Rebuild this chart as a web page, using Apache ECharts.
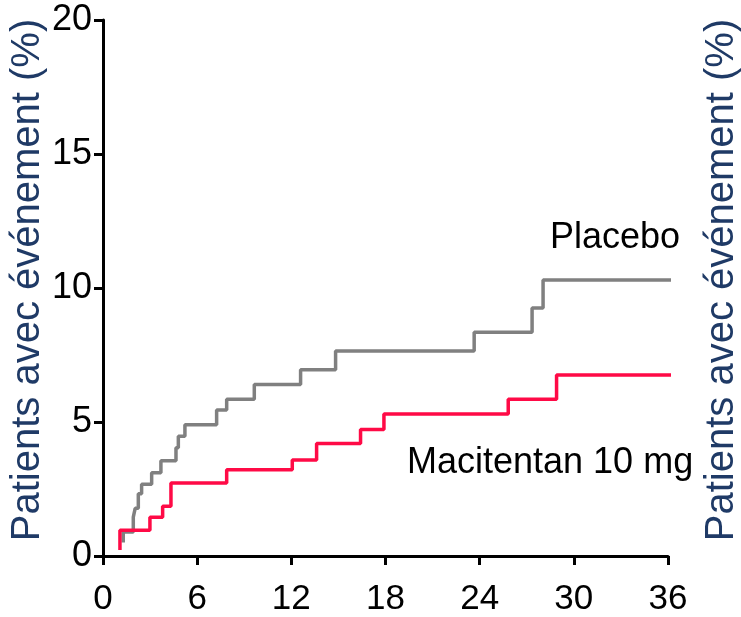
<!DOCTYPE html>
<html>
<head>
<meta charset="utf-8">
<script src="https://cdn.jsdelivr.net/npm/echarts@6/dist/echarts.min.js"></script>
<style>
	html, body { margin: 0; padding: 0; background: #fff; }
	#chart { width: 741px; height: 617px; }
</style>
</head>
<body>
<div id="chart"></div>
<script>
'use strict';
// step points: month where the value changes, new %
var placeboMonths = [1.29, 1.29, 1.93, 2.05, 2.25, 2.46, 3.10, 3.69, 4.65, 4.80, 5.22, 7.24, 7.88, 9.64, 12.59, 14.82, 23.65, 27.34, 28.04, 36.4];
var placeboPct = [0.50, 0.90, 1.45, 1.78, 2.32, 2.68, 3.11, 3.55, 4.04, 4.47, 4.90, 5.45, 5.85, 6.40, 6.95, 7.65, 8.35, 9.25, 10.30, 10.30];
var macitentanMonths = [1.08, 1.08, 2.99, 3.80, 4.33, 7.88, 12.06, 13.61, 16.41, 17.90, 25.82, 28.90, 36.4];
var macitentanPct = [0.22, 0.96, 1.45, 1.86, 2.72, 3.22, 3.58, 4.20, 4.72, 5.30, 5.85, 6.75, 6.75];

var seriesNames = ['Placebo', 'Macitentan 10 mg'];
var axisTitle = 'Patients avec événement (%)';

function pairs(xs, ys) {
	var out = [];
	for (var i = 0; i < xs.length; i++) {
		out.push([xs[i], ys[i]]);
	}
	return out;
}

var font = '"Liberation Sans", Arial, sans-serif';
var navy = '#1f3a66';

var myChart = echarts.init(document.getElementById('chart'));
var option = {
	animation: false,
	grid: { left: 103, right: 73, top: 20, bottom: 56 },
	xAxis: {
		type: 'value',
		min: 0,
		max: 36,
		interval: 6,
		splitLine: { show: false },
		axisLine: { lineStyle: { color: '#000', width: 3 } },
		axisTick: { length: 9, lineStyle: { color: '#000', width: 3 } },
		axisLabel: { color: '#000', fontSize: 35, fontFamily: font, margin: 26 }
	},
	yAxis: {
		type: 'value',
		min: 0,
		max: 20,
		interval: 5,
		splitLine: { show: false },
		axisLine: { show: true, lineStyle: { color: '#000', width: 3 } },
		axisTick: { show: true, length: 9, lineStyle: { color: '#000', width: 3 } },
		axisLabel: { color: '#000', fontSize: 36, fontFamily: font, margin: 11 }
	},
	series: [{
		name: seriesNames[0],
		type: 'line',
		step: 'end',
		showSymbol: false,
		clip: false,
		lineStyle: { color: '#808080', width: 3.5 },
		data: pairs(placeboMonths, placeboPct)
	}, {
		name: seriesNames[1],
		type: 'line',
		step: 'end',
		showSymbol: false,
		clip: false,
		lineStyle: { color: '#ff0a46', width: 3.5 },
		data: pairs(macitentanMonths, macitentanPct)
	}],
	graphic: [{
		type: 'text',
		x: 28, y: 280,
		rotation: Math.PI / 2,
		style: { text: axisTitle, fill: navy, font: '40px ' + font, textAlign: 'center', textVerticalAlign: 'middle' }
	}, {
		type: 'text',
		x: 722, y: 280,
		rotation: Math.PI / 2,
		style: { text: axisTitle, fill: navy, font: '40px ' + font, textAlign: 'center', textVerticalAlign: 'middle' }
	}, {
		type: 'text',
		x: 550, y: 238,
		style: { text: seriesNames[0], fill: '#000', font: '36px ' + font, textVerticalAlign: 'middle' }
	}, {
		type: 'text',
		x: 407, y: 463,
		style: { text: seriesNames[1], fill: '#000', font: '36px ' + font, textVerticalAlign: 'middle' }
	}]
};
myChart.setOption(option);
</script>
</body>
</html>
